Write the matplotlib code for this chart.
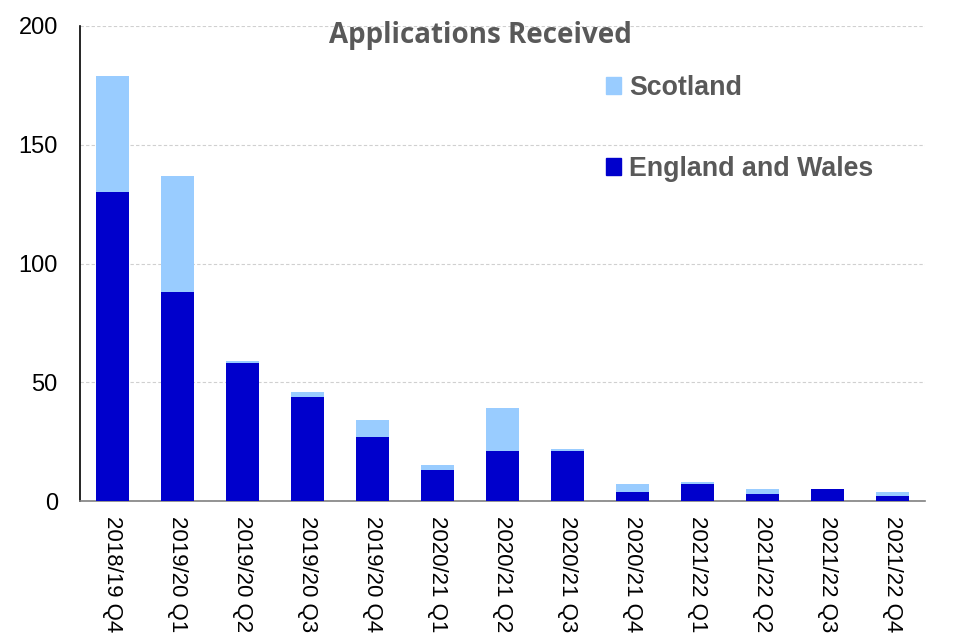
import matplotlib
matplotlib.use("Agg")
import matplotlib.pyplot as plt
from matplotlib.patches import Patch

categories = ["2018/19 Q4", "2019/20 Q1", "2019/20 Q2", "2019/20 Q3", "2019/20 Q4",
              "2020/21 Q1", "2020/21 Q2", "2020/21 Q3", "2020/21 Q4", "2021/22 Q1",
              "2021/22 Q2", "2021/22 Q3", "2021/22 Q4"]
england_wales = [130, 88, 58, 44, 27, 13, 21, 21, 4, 7, 3, 5, 2]
scotland = [49, 49, 1, 2, 7, 2, 18, 1, 3, 1, 2, 0, 2]
y_ticks = [0, 50, 100, 150, 200]

c_ew = "#0000CC"
c_sc = "#99CCFF"
grey = "#595959"

plt.rcParams['font.family'] = ['Liberation Sans', 'DejaVu Sans']

fig = plt.figure(figsize=(9.6, 6.4), dpi=100)
ax = fig.add_axes([80/960, 1 - 501/640, 845/960, 475/640])

x = list(range(len(categories)))
ax.bar(x, england_wales, width=0.5, color=c_ew, linewidth=0, zorder=3)
ax.bar(x, scotland, width=0.5, bottom=england_wales, color=c_sc, linewidth=0, zorder=3)

ax.set_xlim(-0.5, len(categories) - 0.5)
ax.set_ylim(0, 200)
ax.set_yticks(y_ticks)
ax.set_yticklabels([str(v) for v in y_ticks], fontsize=17)
ax.set_xticks(x)
ax.set_xticklabels(categories, rotation=270, fontsize=16, va='top', ha='center')
ax.tick_params(axis='both', length=0)
ax.tick_params(axis='y', pad=16)
ax.tick_params(axis='x', pad=11)

ax.yaxis.grid(True, color="#d0d0d0", linestyle=(0, (3, 2)), linewidth=0.8, zorder=0)
ax.set_axisbelow(True)
for s in ["top", "right"]:
    ax.spines[s].set_visible(False)
ax.spines["left"].set_color("black")
ax.spines["left"].set_linewidth(1.2)
ax.spines["bottom"].set_color("#808080")
ax.spines["bottom"].set_linewidth(1.2)

fig.text(480/960, 1 - 35/640, "Applications Received", ha='center', va='center',
         fontsize=20, fontweight='bold', color=grey, family=['Open Sans', 'DejaVu Sans'])

handles = [Patch(color=c_sc, label="Scotland"), Patch(color=c_ew, label="England and Wales")]
leg = ax.legend(handles=handles, loc='upper left', bbox_to_anchor=(606/960, 1 - 75/640),
                bbox_transform=fig.transFigure, frameon=False, fontsize=19.3,
                labelspacing=2.05, handlelength=0.55, handleheight=0.55, handletextpad=0.3,
                borderpad=0, borderaxespad=0)
for t in leg.get_texts():
    t.set_color(grey)
    t.set_fontweight('bold')

fig.savefig("out.png", dpi=100)
